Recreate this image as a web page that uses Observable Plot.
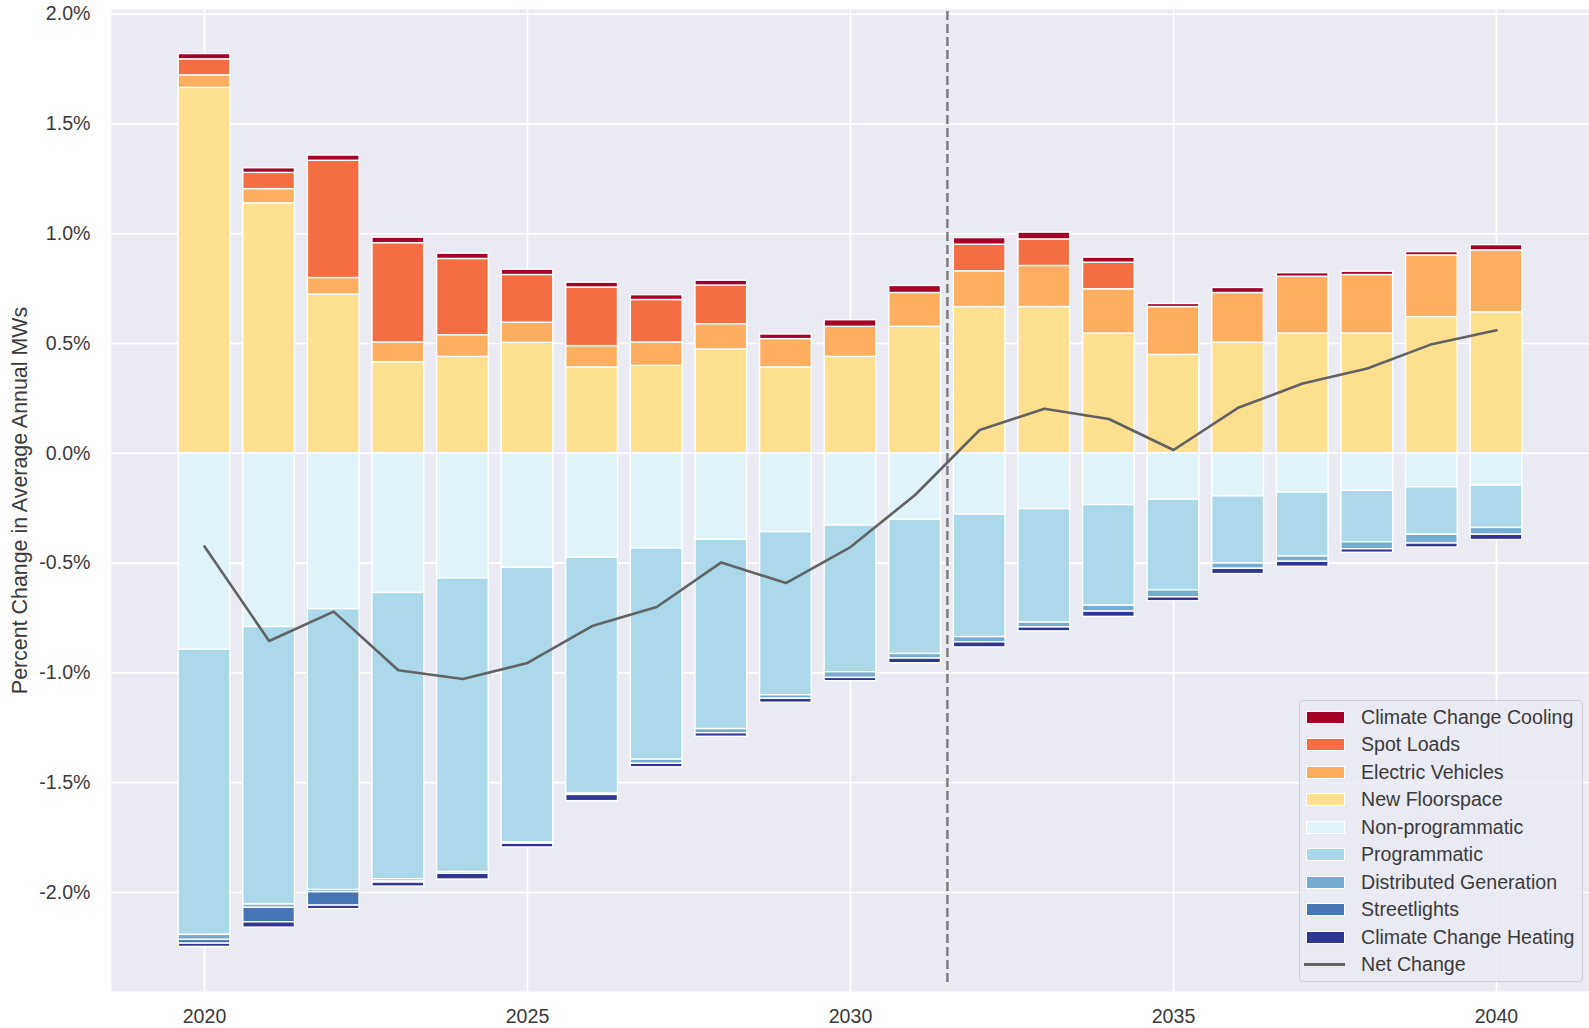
<!DOCTYPE html>
<html>
<head>
<meta charset="utf-8">
<script src="https://cdn.jsdelivr.net/npm/d3@7"></script>
<script src="https://cdn.jsdelivr.net/npm/@observablehq/plot@0.6"></script>
<style>
  html, body { margin: 0; padding: 0; background: white; }
  #wrap { position: relative; width: 1589px; height: 1028px; font-family: Arial, "Liberation Sans", sans-serif; }
  #legend { position: absolute; left: 1299px; top: 700px; width: 284px; height: 282px;
    border: 1px solid #cfcfd4; border-radius: 4px; background: rgba(234,234,242,0.85); box-sizing: border-box; }
  .row { position: absolute; left: 0; height: 27.5px; display: flex; align-items: center; }
  .sw { position: absolute; left: 6px; width: 37px; height: 11px; border: 1px solid white; }
  .ln { position: absolute; left: 4px; width: 41px; height: 3px; background: #666; }
  .lab { position: absolute; left: 61px; white-space: nowrap; font-size: 19.6px; color: #3a3a3a; }
</style>
</head>
<body>
<div id="wrap"></div>
<script>
// ---------------- data ----------------
const years = [2020,2021,2022,2023,2024,2025,2026,2027,2028,2029,2030,2031,2032,2033,2034,2035,2036,2037,2038,2039,2040];

const newFloorspace   = [1.664,1.138,0.723,0.415,0.439,0.503,0.391,0.398,0.473,0.391,0.439,0.576,0.666,0.666,0.545,0.448,0.504,0.545,0.545,0.620,0.642];
const electricVehicles= [0.057,0.065,0.075,0.090,0.099,0.092,0.097,0.107,0.115,0.129,0.137,0.154,0.163,0.187,0.202,0.218,0.226,0.259,0.267,0.281,0.282];
const spotLoads       = [0.073,0.074,0.534,0.452,0.347,0.217,0.267,0.193,0.176,0,0,0,0.121,0.121,0.121,0,0,0,0,0,0];
const ccCooling       = [0.024,0.021,0.024,0.025,0.024,0.024,0.022,0.022,0.022,0.021,0.030,0.032,0.030,0.031,0.023,0.014,0.023,0.016,0.015,0.015,0.024];

const nonProgrammatic = [-0.895,-0.791,-0.710,-0.636,-0.570,-0.521,-0.475,-0.433,-0.394,-0.359,-0.329,-0.303,-0.279,-0.254,-0.236,-0.211,-0.196,-0.179,-0.171,-0.155,-0.147];
const programmatic    = [-1.298,-1.264,-1.279,-1.304,-1.337,-1.251,-1.075,-0.962,-0.862,-0.743,-0.668,-0.611,-0.558,-0.517,-0.458,-0.413,-0.306,-0.291,-0.234,-0.216,-0.193];
const distGeneration  = [-0.023,-0.015,-0.010,-0.010,-0.008,-0.006,-0.006,-0.019,-0.019,-0.016,-0.026,-0.021,-0.024,-0.022,-0.027,-0.032,-0.024,-0.024,-0.032,-0.040,-0.031];
const streetlights    = [-0.017,-0.066,-0.061,-0.005,0,0,0,0,0,0,0,0,0,0,0,0,0,0,0,0,0];
const ccHeating       = [-0.015,-0.024,-0.016,-0.018,-0.026,-0.017,-0.028,-0.016,-0.016,-0.018,-0.015,-0.021,-0.023,-0.018,-0.024,-0.018,-0.024,-0.023,-0.016,-0.018,-0.024];

const netChange       = [-0.424,-0.855,-0.721,-0.988,-1.028,-0.955,-0.787,-0.700,-0.497,-0.591,-0.427,-0.190,0.106,0.203,0.156,0.015,0.207,0.318,0.386,0.497,0.560];

const cutoffYear = [2031.5];

const seriesNames = ["New Floorspace","Electric Vehicles","Spot Loads","Climate Change Cooling",
  "Non-programmatic","Programmatic","Distributed Generation","Streetlights","Climate Change Heating"];
const seriesValues = [newFloorspace, electricVehicles, spotLoads, ccCooling,
  nonProgrammatic, programmatic, distGeneration, streetlights, ccHeating];
const palette = ["#fee090","#fdae61","#f46d43","#a50026","#e0f3f8","#abd9e9","#74add1","#4575b4","#313695"];

const legendOrder = ["Climate Change Cooling","Spot Loads","Electric Vehicles","New Floorspace",
  "Non-programmatic","Programmatic","Distributed Generation","Streetlights","Climate Change Heating"];

const xTicks = [2020,2025,2030,2035,2040];
const yTicks = [-2.0,-1.5,-1.0,-0.5,0.0,0.5,1.0,1.5,2.0];
const yLabel = "Percent Change in Average Annual MWs";
const netLabel = "Net Change";

// ---------------- build ----------------
const rows = seriesNames.flatMap((name, s) =>
  years.map((year, i) => ({year, series: name, value: seriesValues[s][i]}))
).filter(d => d.value !== 0);
const net = years.map((year, i) => ({year, value: netChange[i]}));

const barHalf = 0.4;
const font = 'Arial, "Liberation Sans", sans-serif';

const chart = Plot.plot({
  width: 1589,
  height: 1028,
  marginLeft: 111,
  marginRight: 0,
  marginTop: 9,
  marginBottom: 37,
  style: {background: "white", fontFamily: font, fontSize: "19.6px", color: "#3a3a3a"},
  x: {type: "linear", domain: [2018.56, 2041.44]},
  y: {type: "linear", domain: [-2.451, 2.021]},
  color: {domain: seriesNames, range: palette},
  marks: [
    Plot.frame({fill: "#eaeaf2", stroke: "none"}),
    Plot.gridX(xTicks, {stroke: "white", strokeOpacity: 1, strokeWidth: 1.6}),
    Plot.gridY(yTicks, {stroke: "white", strokeOpacity: 1, strokeWidth: 1.6}),
    Plot.rectY(rows, {
      x1: d => d.year - barHalf,
      x2: d => d.year + barHalf,
      y: "value",
      fill: "series",
      stroke: "white",
      strokeWidth: 1.4
    }),
    Plot.ruleX(cutoffYear, {y1: -2.41, y2: 2.021, stroke: "#7a7a7a", strokeWidth: 2.4, strokeDasharray: "9,4"}),
    Plot.line(net, {x: "year", y: "value", stroke: "#626262", strokeWidth: 2.6}),
    Plot.axisX({ticks: xTicks, tickFormat: d => String(d), tickSize: 0, tickPadding: 18, label: null}),
    Plot.axisY({ticks: yTicks, tickFormat: d => d.toFixed(1) + "%", tickSize: 0, tickPadding: 21, label: null}),
    Plot.text([yLabel], {frameAnchor: "left", textAnchor: "middle", rotate: -90, dx: -91.5, fontSize: 21.4, fill: "#3a3a3a", text: d => d})
  ]
});

const wrap = document.getElementById("wrap");
wrap.appendChild(chart);

// legend overlay (inside the axes, like matplotlib)
const leg = document.createElement("div");
leg.id = "legend";
const colorOf = Object.fromEntries(seriesNames.map((n, i) => [n, palette[i]]));
const rowH = 27.5;
[...legendOrder, netLabel].forEach((name, i) => {
  const r = document.createElement("div");
  r.className = "row";
  r.style.top = (2.7 + i * rowH) + "px";
  r.style.width = "100%";
  if (name === netLabel) {
    const l = document.createElement("div");
    l.className = "ln";
    r.appendChild(l);
  } else {
    const sw = document.createElement("div");
    sw.className = "sw";
    sw.style.background = colorOf[name];
    r.appendChild(sw);
  }
  const t = document.createElement("div");
  t.className = "lab";
  t.textContent = name;
  r.appendChild(t);
  leg.appendChild(r);
});
wrap.appendChild(leg);
</script>
</body>
</html>
